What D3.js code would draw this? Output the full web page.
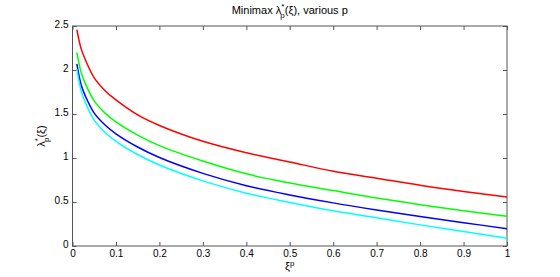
<!DOCTYPE html>
<html><head><meta charset="utf-8">
<script src="https://cdn.jsdelivr.net/npm/d3@7"></script>
<style>
body{margin:0;background:#fff;}
svg{display:block;font-family:"Liberation Sans",Arial,sans-serif;}
</style></head>
<body><svg id="c" width="560" height="277"></svg>
<script>
const xs = [0.01,0.02,0.03,0.05,0.075,0.1,0.15,0.2,0.3,0.4,0.5,0.6,0.7,0.8,0.9,1.0];
const red   = [2.46,2.24,2.11,1.91,1.765,1.66,1.49,1.37,1.19,1.06,0.955,0.85,0.77,0.69,0.62,0.557];
const green = [2.20,1.97,1.84,1.65,1.51,1.41,1.26,1.14,0.965,0.82,0.717,0.63,0.545,0.47,0.40,0.337];
const blue  = [2.07,1.83,1.70,1.51,1.375,1.275,1.125,1.005,0.825,0.685,0.58,0.49,0.41,0.335,0.265,0.197];
const cyan  = [2.01,1.76,1.625,1.43,1.29,1.19,1.04,0.92,0.74,0.60,0.495,0.40,0.32,0.24,0.165,0.087];
const xTicks = [0,0.1,0.2,0.3,0.4,0.5,0.6,0.7,0.8,0.9,1];
const yTicks = [0,0.5,1,1.5,2,2.5];
const series = [
  {vals: red, color: "#ff0000"},
  {vals: green, color: "#00ff00"},
  {vals: blue, color: "#0000ff"},
  {vals: cyan, color: "#00ffff"}
];

const L=72.5, R=507, T=26, B=246;
const svg = d3.select("#c");
const x = d3.scaleLinear().domain([0,1]).range([L,R]);
const y = d3.scaleLinear().domain([0,2.5]).range([B,T]);
const fmt = d => String(d);
const axCol = "#555";

svg.append("rect").attr("x",L).attr("y",T).attr("width",R-L).attr("height",B-T)
  .attr("fill","none").attr("stroke",axCol).attr("stroke-width",1);

const gb = svg.append("g").attr("transform",`translate(0,${B})`)
  .call(d3.axisBottom(x).tickValues(xTicks).tickFormat(fmt).tickSizeInner(-4).tickSizeOuter(0).tickPadding(4));
const gt = svg.append("g").attr("transform",`translate(0,${T})`)
  .call(d3.axisTop(x).tickValues(xTicks).tickFormat("").tickSizeInner(-4).tickSizeOuter(0));
const gl = svg.append("g").attr("transform",`translate(${L},0)`)
  .call(d3.axisLeft(y).tickValues(yTicks).tickFormat(fmt).tickSizeInner(-4).tickSizeOuter(0).tickPadding(4));
const gr = svg.append("g").attr("transform",`translate(${R},0)`)
  .call(d3.axisRight(y).tickValues(yTicks).tickFormat("").tickSizeInner(-4).tickSizeOuter(0));
[gb,gt,gl,gr].forEach(g=>{
  g.select(".domain").remove();
  g.selectAll(".tick line").attr("stroke",axCol);
  g.selectAll("text").attr("fill","#000").style("font-size","10px").style("font-family","'Liberation Sans',Arial,sans-serif");
});
gl.selectAll("text").attr("dy","0.1em");

const line = d3.line().x((d,i)=>x(xs[i])).y(d=>y(d)).curve(d3.curveCatmullRom.alpha(0.5));
series.forEach(s=>{
  svg.append("path").datum(s.vals).attr("d",line)
    .attr("fill","none").attr("stroke",s.color).attr("stroke-width",1.5);
});

const title = svg.append("text").attr("x",(L+R)/2).attr("y",14).attr("text-anchor","middle")
  .style("font-size","11px").attr("fill","#000");
title.append("tspan").text("Minimax λ");
title.append("tspan").attr("dy",-5).style("font-size","8px").text("*");
title.append("tspan").attr("dx",-4).attr("dy",9).style("font-size","8px").text("p");
title.append("tspan").attr("dy",-4).text("(ξ), various p");

const yl = svg.append("text").attr("transform",`translate(45,${(T+B)/2}) rotate(-90)`)
  .attr("text-anchor","middle").style("font-size","11px").attr("fill","#000");
yl.append("tspan").text("λ");
yl.append("tspan").attr("dy",-5).style("font-size","8px").text("*");
yl.append("tspan").attr("dx",-4).attr("dy",9).style("font-size","8px").text("p");
yl.append("tspan").attr("dy",-4).text("(ξ)");

const xl = svg.append("text").attr("x",(L+R)/2).attr("y",270).attr("text-anchor","middle")
  .style("font-size","11px").attr("fill","#000");
xl.append("tspan").text("ξ");
xl.append("tspan").attr("dy",-4).style("font-size","8px").text("p");
</script>
</body></html>
